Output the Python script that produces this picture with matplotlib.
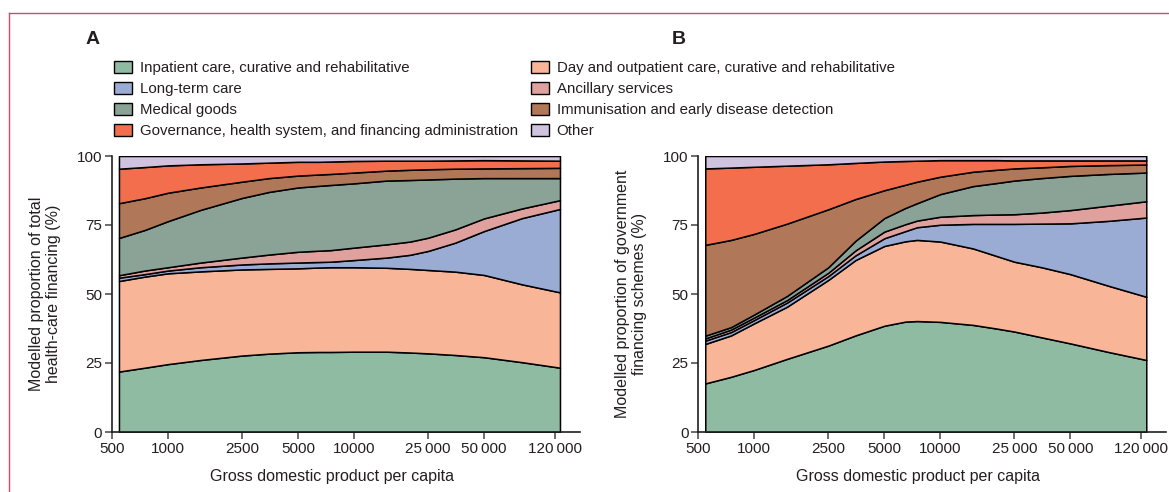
import numpy as np
import matplotlib
matplotlib.use('Agg')
import matplotlib.pyplot as plt
from matplotlib.patches import Patch
from matplotlib.lines import Line2D

plt.rcParams['font.family'] = ['Liberation Sans Narrow', 'Liberation Sans', 'DejaVu Sans']

gdp = [545, 750, 1000, 1500, 2500, 3500, 5000, 6500, 7500, 10000,
       15000, 20000, 25000, 35000, 50000, 80000, 128000]

categories = ['Inpatient care, curative and rehabilitative',
              'Day and outpatient care, curative and rehabilitative',
              'Long-term care',
              'Ancillary services',
              'Medical goods',
              'Immunisation and early disease detection',
              'Governance, health system, and financing administration',
              'Other']
colors = ['#8fbba3', '#f8b598', '#9aabd4', '#e0a09e', '#8aa396', '#b07758', '#f26e4c', '#cfc3df']

# panel A: upper edge of each stacked band (% of total health-care financing)
# the last band (Other) always tops out at 100
a_inpatient  = [21.9, 23.3, 24.6, 26.1, 27.7, 28.4, 28.9, 29.0, 29.0, 29.1, 29.1, 28.8, 28.5, 27.9, 27.1, 25.3, 23.3]
a_outpatient = [54.7, 56.3, 57.5, 58.2, 58.9, 59.1, 59.3, 59.6, 59.7, 59.7, 59.5, 59.1, 58.7, 58.1, 56.9, 53.5, 50.6]
a_longterm   = [55.9, 57.2, 58.5, 59.7, 60.7, 61.1, 61.4, 61.6, 61.7, 62.3, 63.2, 64.2, 65.6, 68.6, 72.8, 77.5, 80.8]
a_ancillary  = [56.8, 58.5, 59.7, 61.4, 63.2, 64.3, 65.3, 65.7, 65.9, 66.8, 68.0, 69.0, 70.4, 73.4, 77.4, 81.0, 84.0]
a_medical    = [70.3, 73.2, 76.4, 80.5, 84.8, 87.0, 88.6, 89.2, 89.5, 90.1, 91.1, 91.3, 91.5, 91.8, 92.0, 92.0, 92.0]
a_immunis    = [82.9, 84.7, 86.7, 88.6, 90.7, 92.0, 92.9, 93.3, 93.5, 94.0, 94.7, 95.0, 95.2, 95.4, 95.5, 95.6, 95.7]
a_governance = [95.4, 96.0, 96.6, 97.0, 97.3, 97.6, 97.9, 97.9, 98.0, 98.2, 98.3, 98.3, 98.3, 98.4, 98.5, 98.4, 98.3]
a_other      = [100.0] * 17

# panel B: upper edge of each band (% of government financing schemes)
b_inpatient  = [17.6, 20.0, 22.5, 26.5, 31.3, 35.0, 38.5, 40.0, 40.2, 39.9, 38.8, 37.5, 36.4, 34.3, 32.1, 29.0, 26.1]
b_outpatient = [31.9, 35.0, 39.4, 45.4, 55.1, 62.3, 67.4, 69.1, 69.6, 69.0, 66.5, 63.8, 61.7, 59.7, 57.2, 53.0, 49.0]
b_longterm   = [33.1, 36.2, 40.6, 46.9, 56.5, 64.0, 70.2, 72.8, 74.2, 75.1, 75.4, 75.4, 75.4, 75.5, 75.6, 76.5, 77.7]
b_ancillary  = [33.9, 37.1, 41.5, 47.8, 57.7, 65.8, 72.6, 75.3, 76.6, 78.0, 78.6, 78.8, 78.9, 79.5, 80.4, 82.0, 83.6]
b_medical    = [34.9, 38.0, 42.6, 49.3, 59.7, 69.3, 77.5, 81.2, 82.9, 86.2, 89.1, 90.2, 91.1, 92.0, 92.8, 93.5, 94.0]
b_immunis    = [67.8, 69.6, 71.8, 75.5, 80.7, 84.4, 87.6, 89.6, 90.7, 92.5, 94.3, 95.0, 95.5, 95.9, 96.4, 96.7, 96.9]
b_governance = [95.5, 95.8, 96.1, 96.5, 97.0, 97.5, 98.0, 98.2, 98.3, 98.5, 98.5, 98.5, 98.4, 98.4, 98.4, 98.4, 98.4]
b_other      = [100.0] * 17

xticks = [500, 1000, 2500, 5000, 10000, 25000, 50000, 120000]
xticklabels = ['500', '1000', '2500', '5000', '10000', '25\u2009000', '50\u2009000', '120\u2009000']
yticks = [0, 25, 50, 75, 100]

ink = '#231f20'
W, H = 1169, 492

fig = plt.figure(figsize=(W / 100, H / 100), dpi=100)

def stacked(ax, edges):
    x = np.array(gdp, dtype=float)
    lower = np.zeros(len(x))
    for top, c in zip(edges, colors):
        top = np.array(top)
        ax.fill_between(x, lower, top, facecolor=c, edgecolor='black', linewidth=1.1, zorder=2)
        lower = top

def style(ax, ylabel):
    ax.set_xscale('log')
    ax.set_xlim(500, 164000)
    ax.set_ylim(0, 100)
    ax.set_xticks(xticks)
    ax.set_xticklabels(xticklabels)
    ax.xaxis.set_minor_locator(matplotlib.ticker.NullLocator())
    ax.set_yticks(yticks)
    for s in ['top', 'right']:
        ax.spines[s].set_visible(False)
    for s in ['left', 'bottom']:
        ax.spines[s].set_color(ink)
        ax.spines[s].set_linewidth(1.2)
    ax.tick_params(direction='out', length=5, width=1.1, color='#444444',
                   labelsize=11, labelcolor=ink, pad=2)
    for lab in ax.get_xticklabels() + ax.get_yticklabels():
        lab.set_family(['Liberation Sans', 'DejaVu Sans'])
    ax.set_xlabel('Gross domestic product per capita', fontsize=11.5, color=ink)
    ax.xaxis.set_label_coords(0.47, -0.135)
    ax.set_ylabel(ylabel, fontsize=11.5, color=ink, linespacing=1.15)
    ax.yaxis.set_label_coords(-0.109, 0.5)

axA = fig.add_axes([112 / W, 60 / H, 468 / W, 276 / H])
stacked(axA, [a_inpatient, a_outpatient, a_longterm, a_ancillary,
              a_medical, a_immunis, a_governance, a_other])
style(axA, 'Modelled proportion of total\nhealth-care financing (%)')

axB = fig.add_axes([698.3 / W, 60 / H, 468 / W, 276 / H])
stacked(axB, [b_inpatient, b_outpatient, b_longterm, b_ancillary,
              b_medical, b_immunis, b_governance, b_other])
style(axB, 'Modelled proportion of government\nfinancing schemes (%)')

fig.text(93 / W, 1 - 39 / H, 'A', fontsize=14, fontweight='bold', color=ink,
         ha='center', va='center', family=['Liberation Sans', 'DejaVu Sans'])
fig.text(679 / W, 1 - 39 / H, 'B', fontsize=14, fontweight='bold', color=ink,
         ha='center', va='center', family=['Liberation Sans', 'DejaVu Sans'])

# legend fills column-wise, so the left column gets the first four
order = [0, 2, 4, 6, 1, 3, 5, 7]
handles = [Patch(facecolor=colors[i], edgecolor='black', linewidth=1.0) for i in order]
labels = [categories[i] for i in order]
fig.legend(handles, labels, ncol=2, loc='upper left', bbox_to_anchor=(114 / W, 1 - 61 / H),
           frameon=False, fontsize=10.8, handlelength=1.2, handleheight=0.85,
           handletextpad=0.5, labelspacing=0.45, columnspacing=0.9, borderpad=0,
           borderaxespad=0, labelcolor=ink)

# page frame
frame_col = '#cf4a6e'
fig.add_artist(Line2D([9 / W, 9 / W], [0, 1 - 13 / H], color=frame_col, lw=1))
fig.add_artist(Line2D([9 / W, 1], [1 - 13 / H, 1 - 13 / H], color=frame_col, lw=1))

fig.savefig('out.png', dpi=100)
